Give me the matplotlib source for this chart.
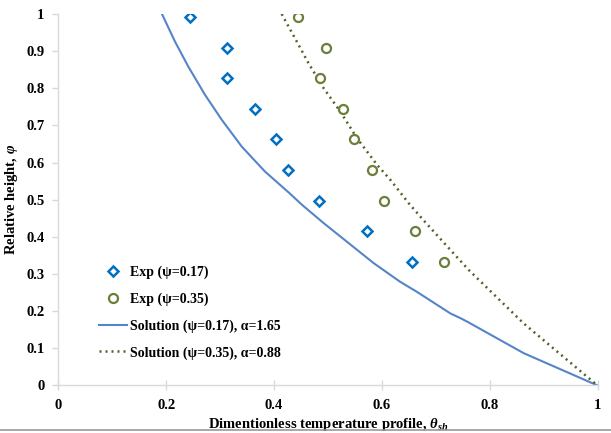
import matplotlib
matplotlib.use("Agg")
import matplotlib.pyplot as plt
from matplotlib.lines import Line2D

# Experimental data
exp017_theta = [0.244, 0.313, 0.312, 0.364, 0.403, 0.426, 0.483, 0.573, 0.656]
exp017_phi = [0.991, 0.908, 0.827, 0.744, 0.663, 0.579, 0.497, 0.415, 0.333]
exp035_theta = [0.444, 0.497, 0.485, 0.528, 0.549, 0.581, 0.604, 0.662, 0.716]
exp035_phi = [0.991, 0.908, 0.827, 0.744, 0.663, 0.579, 0.497, 0.415, 0.333]

# Solution curves
sol017_theta = [0.192, 0.216, 0.241, 0.272, 0.303, 0.340, 0.383, 0.429, 0.452, 0.492,
                0.585, 0.634, 0.665, 0.727, 0.746, 0.758, 0.863, 1.0]
sol017_phi = [1.0, 0.926, 0.858, 0.782, 0.715, 0.643, 0.576, 0.517, 0.486, 0.437,
              0.329, 0.279, 0.252, 0.194, 0.181, 0.172, 0.087, 0.0]
sol035_theta = [0.414, 0.439, 0.464, 0.492, 0.523, 0.554, 0.591, 0.616, 0.650, 0.677,
                0.727, 0.761, 0.863, 1.0]
sol035_phi = [1.0, 0.934, 0.867, 0.800, 0.737, 0.665, 0.594, 0.553, 0.490, 0.445,
              0.365, 0.311, 0.167, 0.0]

xticks = [0, 0.2, 0.4, 0.6, 0.8, 1]
xticklabels = ["0", "0.2", "0.4", "0.6", "0.8", "1"]
yticks = [0, 0.1, 0.2, 0.3, 0.4, 0.5, 0.6, 0.7, 0.8, 0.9, 1]
yticklabels = ["0", "0.1", "0.2", "0.3", "0.4", "0.5", "0.6", "0.7", "0.8", "0.9", "1"]

plt.rcParams['font.family'] = ['Liberation Serif', 'DejaVu Serif']
plt.rcParams['mathtext.fontset'] = 'custom'
plt.rcParams['mathtext.it'] = 'Liberation Serif:italic:bold'
plt.rcParams['mathtext.rm'] = 'Liberation Serif:bold'

fig = plt.figure(figsize=(6.11, 4.33), dpi=100)
ax = fig.add_axes([0.0957, 0.1097, 0.978 - 0.0957, 0.9677 - 0.1097])

blue_m = '#0070C0'
blue_l = '#5585C8'
green = '#6B7F3A'
green_l = '#4F6228'

ax.plot(sol017_theta, sol017_phi, color=blue_l, lw=1.5, zorder=2)
ax.plot(sol035_theta, sol035_phi, color=green_l, lw=1.8, linestyle=(0, (0.8, 1.6)), zorder=2)
ax.plot(exp017_theta, exp017_phi, linestyle='none', marker='D', markersize=5.5,
        markerfacecolor='white', markeredgecolor=blue_m, markeredgewidth=1.8, zorder=3)
ax.plot(exp035_theta, exp035_phi, linestyle='none', marker='o', markersize=6.5,
        markerfacecolor='white', markeredgecolor=green, markeredgewidth=1.6, zorder=3)

ax.set_xlim(0, 1)
ax.set_ylim(0, 1)
ax.set_xticks(xticks)
ax.set_xticklabels(xticklabels)
ax.set_yticks(yticks)
ax.set_yticklabels(yticklabels)
for s in ['top', 'right']:
    ax.spines[s].set_visible(False)
for s in ['left', 'bottom']:
    ax.spines[s].set_color('#D9D9D9')
    ax.spines[s].set_linewidth(1.0)
ax.tick_params(axis='both', colors='#D9D9D9', length=4, width=1.0, labelcolor='black',
               labelsize=10.5, pad=6)
ax.tick_params(axis='x', direction='inout', length=7)
for lab in ax.get_xticklabels() + ax.get_yticklabels():
    lab.set_fontweight('bold')

ax.set_xlabel(r'Dimentionless temperature profile, $\theta_{sh}$', fontsize=10.5,
              fontweight='bold', labelpad=3)
ax.set_ylabel(r'Relative height, $\varphi$', fontsize=10.5, fontweight='bold')
ax.yaxis.set_label_coords(-0.072, 0.5)

handles = [
    Line2D([], [], linestyle='none', marker='D', markersize=5.5, markerfacecolor='white',
           markeredgecolor=blue_m, markeredgewidth=1.8),
    Line2D([], [], linestyle='none', marker='o', markersize=6.5, markerfacecolor='white',
           markeredgecolor=green, markeredgewidth=1.6),
    Line2D([], [], color=blue_l, lw=1.5),
    Line2D([], [], color=green_l, lw=1.8, linestyle=(0, (0.8, 1.6))),
]
labels = ['Exp (ψ=0.17)', 'Exp (ψ=0.35)', 'Solution (ψ=0.17), α=1.65', 'Solution (ψ=0.35), α=0.88']
leg = ax.legend(handles, labels, loc='lower left', bbox_to_anchor=(0.065, 0.055), frameon=False,
                prop={'weight': 'bold', 'size': 10}, handlelength=2.0, handletextpad=0.2,
                labelspacing=0.95, borderaxespad=0)

fig.add_artist(Line2D([0, 1], [1 - 430 / 433, 1 - 430 / 433], color='#999999', lw=1.2,
                      transform=fig.transFigure))

fig.savefig('out.png', dpi=100)
